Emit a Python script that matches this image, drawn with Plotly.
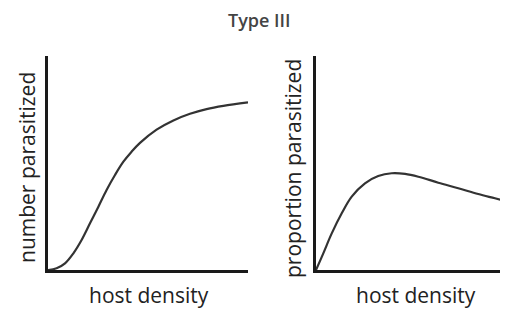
import plotly.graph_objects as go

# Left panel: number parasitized vs host density (Type III sigmoid)
left_x = [0, 4.3, 8.5, 12.7, 16.8, 21, 25.2, 29.3, 33.5, 37.7, 41.8, 46, 54.3, 62.7, 71, 79.3, 87.7, 100]
left_y = [0, 0.8, 3.1, 7.8, 14.0, 21.8, 29.6, 37.4, 44.4, 50.6, 55.3, 59.4, 65.6, 69.9, 73.0, 75.2, 76.7, 78.3]

# Right panel: proportion parasitized vs host density (hump)
right_x = [0, 3.8, 8.2, 13.4, 18.6, 25.5, 32.4, 39.4, 46.4, 53.3, 63.7, 74.1, 84.5, 93.2, 100]
right_y = [0, 7.8, 17.1, 26.5, 34.3, 40.5, 43.9, 45.2, 44.9, 43.6, 40.8, 38.2, 35.5, 33.5, 31.9]

title_text = "Type III"
x_label = "host density"
left_y_label = "number parasitized"
right_y_label = "proportion parasitized"

# page body has an 8px margin, so the figure covers the remaining visible area
OFF = 8
W, H = 508 - OFF, 311 - OFF
FONT = "Open Sans"
TXT = "#222222"

fig = go.Figure()
line_style = dict(color="#333333", width=2.2, shape="spline", smoothing=1.0)
fig.add_trace(go.Scatter(x=left_x, y=left_y, mode="lines", line=line_style,
                         xaxis="x", yaxis="y", showlegend=False, hoverinfo="skip"))
fig.add_trace(go.Scatter(x=right_x, y=right_y, mode="lines", line=line_style,
                         xaxis="x2", yaxis="y2", showlegend=False, hoverinfo="skip"))

def px(x):
    return (x - OFF) / W

def py(y):
    return 1 - (y - OFF) / H

ax_common = dict(showgrid=False, zeroline=False, showticklabels=False, ticks="",
                 showline=True, linecolor="#1a1a1a", linewidth=2.5, range=[0, 100], fixedrange=True)

fig.update_layout(
    width=W, height=H,
    margin=dict(l=0, r=0, t=0, b=0),
    paper_bgcolor="white", plot_bgcolor="white",
    font=dict(family=FONT, color=TXT),
    xaxis=dict(domain=[px(48), px(248)], anchor="y", **ax_common),
    yaxis=dict(domain=[py(270), py(56)], anchor="x", **ax_common),
    xaxis2=dict(domain=[px(316), 1.0], anchor="y2", **ax_common),
    yaxis2=dict(domain=[py(270), py(56)], anchor="x2", **ax_common),
)

ann = [
    dict(text=title_text, x=px(259), y=py(20), yanchor="middle", font=dict(size=18, color="#444444", weight=600)),
    dict(text=x_label, x=px(149), y=0, yanchor="bottom", font=dict(size=21, color=TXT)),
    dict(text=x_label, x=px(416), y=0, yanchor="bottom", font=dict(size=21, color=TXT)),
    dict(text=left_y_label, x=px(27), y=py(168), yanchor="middle", textangle=-90, font=dict(size=21, color=TXT)),
    dict(text=right_y_label, x=px(293), y=py(169), yanchor="middle", textangle=-90, font=dict(size=21, color=TXT)),
]
for a in ann:
    fig.add_annotation(xref="paper", yref="paper", showarrow=False, xanchor="center", **a)

fig.write_html("out.html")
